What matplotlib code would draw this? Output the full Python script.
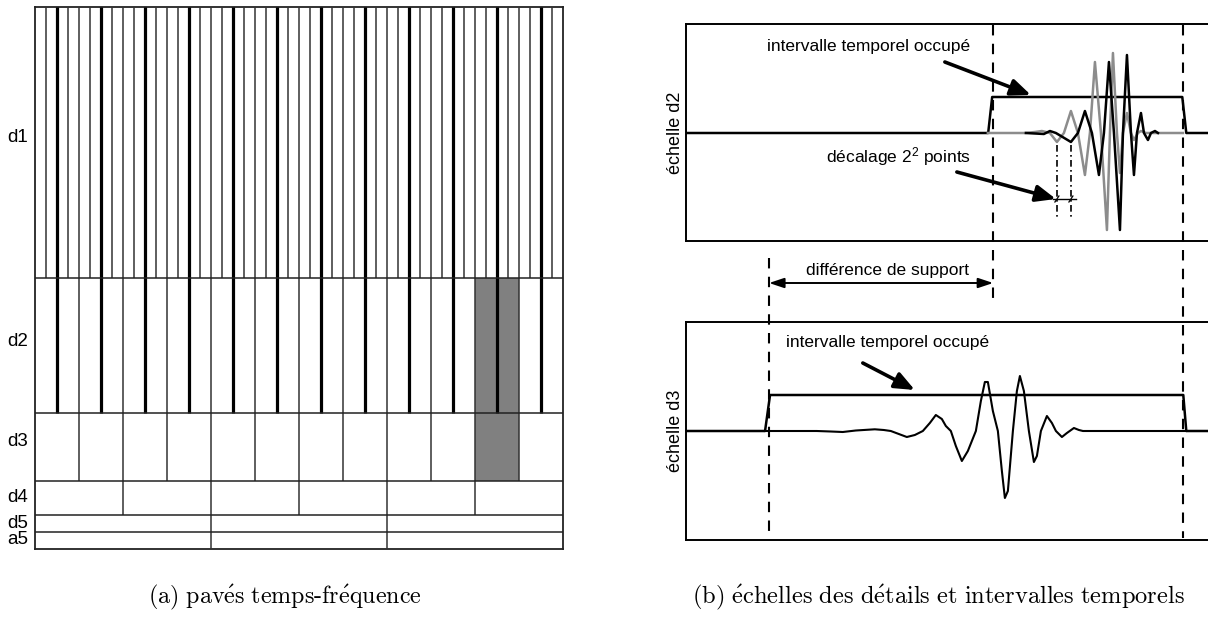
import matplotlib
matplotlib.use("Agg")
import matplotlib.pyplot as plt
from matplotlib.transforms import blended_transform_factory
from matplotlib.patches import Rectangle

plt.rcParams["mathtext.fontset"] = "custom"
plt.rcParams["mathtext.rm"] = "Liberation Sans"
plt.rcParams["mathtext.it"] = "Liberation Sans:italic"
plt.rcParams["mathtext.default"] = "regular"

# ---------------- data : panel (a) time-frequency tiling ----------------
level_names = ["a5", "d5", "d4", "d3", "d2", "d1"]
level_bounds = [0, 1, 2, 4, 8, 16, 32]          # dyadic frequency bands
cells_per_level = [3, 3, 6, 12, 24, 48]          # time cells in each band
total_time = 48
thick_level = "d2"                               # lines introduced at d2 are bold
shaded_cells = [("d3", 10), ("d2", 20), ("d2", 21)]

# ---------------- data : panel (b) ----------------
t_end = 522.3
occ_d2_t = [0, 302.3, 306.3, 496.3, 500.3, t_end]
occ_d2_a = [0, 0, 36, 36, 0, 0]
occ_d3_t = [0, 79.3, 84.3, 497.3, 500.3, t_end]
occ_d3_a = [0, 0, 36, 36, 0, 0]

gray_t = [302, 339, 349, 356, 364, 371, 378, 385, 392, 399, 404, 409, 415, 421,
          424, 427, 431, 434, 437, 441, 445, 448, 452, 455, 460, 497]
gray_a = [0, 0, 1, 2, 0, -9, 0, 22, 0, -42, 0, 71, 0, -97,
          0, 80, 0, -40, 0, 20, 0, -7, 0, 2, 0, 0]

black_t = [340, 358, 364, 370, 385, 392, 399, 406, 413, 418, 423, 428, 434, 437,
           441, 445, 448, 451, 455, 458, 462, 465, 469, 472]
black_a = [0, -1, 2, 0, -9, 0, 22, 0, -42, 0, 71, 0, -97, 0,
           78, 0, -42, 0, 20, 0, -7, 0, 2, 0]

d3_t = [79, 131, 145, 157, 170, 189, 198, 205, 213, 221, 229, 237, 244, 250, 256, 260,
        265, 270, 276, 282, 286, 290, 295, 299, 302, 307, 312, 316, 319, 322, 327,
        331, 334, 338, 343, 348, 351, 355, 361, 366, 370, 376, 381, 388, 393, 397, 500]
d3_a = [0, 0, -0.5, -1, 0.5, 1.7, 1, 0, -3, -6, -4, 0, 8, 16, 12, 5,
        0, -15, -30, -20, -10, 0, 30, 49, 49, 20, 0, -40, -67, -60, 0,
        40, 55, 40, 0, -31, -25, 0, 15, 8, 0, -6, -2, 3, 1, 0, 0]

shift_t = [371, 385]          # 2^2-point shift markers
support_d2 = [307.3, 497.3]   # dashed boundaries
support_d3 = [83.3, 497.3]

labels_sans = ["Liberation Sans", "DejaVu Sans"]
W, H = 1208, 620
fig = plt.figure(figsize=(W / 100, H / 100), dpi=100)


def fig_rect(x0, y0, x1, y1):
    return [x0 / W, 1 - y1 / H, (x1 - x0) / W, (y1 - y0) / H]


# ---------------- panel (a) ----------------
axa = fig.add_axes(fig_rect(35, 6.5, 563, 549))
axa.set_xlim(0, total_time)
axa.set_ylim(0, level_bounds[-1])
axa.set_xticks([]); axa.set_yticks([])
for s in axa.spines.values():
    s.set_linewidth(1.3); s.set_color("#222222")

for name, c in shaded_cells:
    k = level_names.index(name)
    w = total_time / cells_per_level[k]
    axa.add_patch(Rectangle((c * w, level_bounds[k]), w,
                            level_bounds[k + 1] - level_bounds[k],
                            facecolor="#808080", edgecolor="none", zorder=1))

drawn = set()
for k, n in enumerate(cells_per_level):
    w = total_time / n
    for i in range(1, n):
        x = round(i * w, 6)
        if x in drawn:
            continue
        drawn.add(x)
        bold = level_names[k] == thick_level
        axa.plot([x, x], [level_bounds[k], level_bounds[-1]],
                 color="black" if bold else "#333333",
                 lw=2.3 if bold else 1.1, zorder=3, solid_capstyle="butt")
for b in level_bounds[1:-1]:
    axa.plot([0, total_time], [b, b], color="#222222", lw=1.1, zorder=3)

# ---------------- panel (b) ----------------
axt = fig.add_axes(fig_rect(685.7, 24, 1210, 241))
axb = fig.add_axes(fig_rect(685.7, 321.7, 1210, 540))
axt.set_ylim(-108, 109)
axb.set_ylim(-109, 109.3)
for ax in (axt, axb):
    ax.set_xlim(0, t_end + 1.7)
    ax.set_xticks([]); ax.set_yticks([])
    ax.set_facecolor("none")
    ax.spines["right"].set_visible(False)
    for s in ("left", "top", "bottom"):
        ax.spines[s].set_linewidth(1.4)

axt.plot(occ_d2_t, occ_d2_a, color="black", lw=1.8)
axt.plot(gray_t, gray_a, color="#8c8c8c", lw=1.8)
axt.plot(black_t, black_a, color="black", lw=1.8)
axb.plot(occ_d3_t, occ_d3_a, color="black", lw=1.8)
axb.plot(d3_t, d3_a, color="black", lw=1.5)

arrow_kw = dict(arrowstyle="-|>,head_length=1.2,head_width=0.5", color="black",
                lw=2.6, shrinkA=0, shrinkB=0)
axt.text(183, 86, "intervalle temporel occupé", ha="center", va="center",
         fontsize=12.5, family=labels_sans)
axt.annotate("", xy=(345, 38), xytext=(259, 71), arrowprops=arrow_kw)
axt.text(213, -24, "décalage 2$^{2}$ points", ha="center", va="center",
         fontsize=12.5, family=labels_sans)
axt.annotate("", xy=(370, -66), xytext=(271, -39), arrowprops=arrow_kw)
for t in shift_t:
    axt.plot([t, t], [-12, -87], color="black", lw=1.2,
             linestyle=(0, (4, 2, 1, 2)))
    axt.plot([t - 2, t + 2], [-69, -63], color="black", lw=0.9)
axt.plot([shift_t[0] - 4, shift_t[1] + 5], [-66, -66], color="black", lw=1.0)
axt.text(-10, 0, "échelle d2", rotation=90, ha="center", va="center",
         fontsize=13, family=labels_sans)

axb.text(202, 89, "intervalle temporel occupé", ha="center", va="center",
         fontsize=12.5, family=labels_sans)
axb.annotate("", xy=(229, 41), xytext=(177, 68), arrowprops=arrow_kw)
axb.text(-10, 0, "échelle d3", rotation=90, ha="center", va="center",
         fontsize=13, family=labels_sans)
axb.text(202, 161, "différence de support", ha="center", va="center",
         fontsize=12.5, family=labels_sans, clip_on=False)
axb.annotate("", xy=(support_d3[0], 148), xytext=(support_d2[0], 148),
             arrowprops=dict(arrowstyle="<|-|>,head_length=0.9,head_width=0.3",
                             color="black", lw=1.4, shrinkA=0, shrinkB=0),
             annotation_clip=False)

# overlay (figure pixel coordinates) for dashed guides and labels
axo = fig.add_axes([0, 0, 1, 1])
axo.set_xlim(0, W); axo.set_ylim(H, 0); axo.axis("off")
axo.set_facecolor("none")
tr = blended_transform_factory(axt.transData, axo.transData)
dash_spans = [(support_d2[0], 25, 298), (support_d2[1], 25, 538), (support_d3[0], 258, 538)]
for t, y0, y1 in dash_spans:
    axo.plot([t, t], [y0, y1], transform=tr, color="black", lw=1.5,
             dashes=(5, 4), clip_on=False)

label_y = [540, 523, 497, 442, 341, 138]
for name, y in zip(level_names, label_y):
    axo.text(7, y, name, ha="left", va="center", fontsize=13.5, family=labels_sans)

cap_a = r"$\mathrm{(a)\ pav\acute{e}s\ temps}$-$\mathrm{fr\acute{e}quence}$"
cap_b = (r"$\mathrm{(b)\ \acute{e}chelles\ des\ d\acute{e}tails\ et\ "
         r"intervalles\ temporels}$")
axo.text(285, 597, cap_a, ha="center", va="center", fontsize=17.3,
         family="cmr10", math_fontfamily="cm")
axo.text(938, 597, cap_b, ha="center", va="center", fontsize=17.6,
         family="cmr10", math_fontfamily="cm")

fig.savefig("out.png", dpi=100)
